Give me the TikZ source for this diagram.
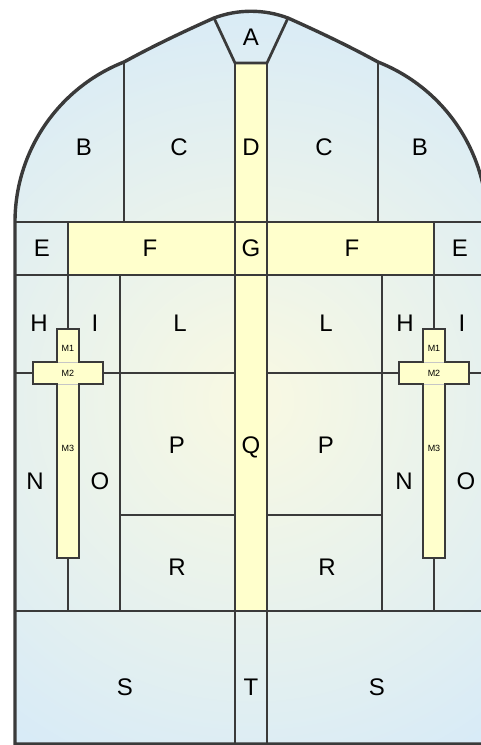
\documentclass[tikz,border=0pt]{standalone}
\usepackage{fontspec}
\setmainfont{Liberation Sans}
\definecolor{lead}{RGB}{58,58,58}
\definecolor{glassin}{RGB}{249,249,226}
\definecolor{glassout}{RGB}{214,234,248}
\definecolor{gold}{RGB}{255,255,204}
\tikzset{
  leadline/.style={draw=lead, line width=2.7pt},
  frameline/.style={draw=lead, line width=3.4pt},
  crossline/.style={draw=lead, line width=2.3pt, fill=gold},
  faint/.style={draw=gray!45, line width=0.8pt},
  lbl/.style={font=\fontsize{24}{24}\selectfont, inner sep=0pt, text depth=0pt},
  mlbl/.style={font=\fontsize{9}{9}\selectfont, inner sep=0pt, text depth=0pt},
}
\begin{document}
\begin{tikzpicture}[x=1pt,y=-1pt]
\useasboundingbox (0,0) rectangle (481,745);
\clip (0,0) rectangle (481,745);
% window outline
\def\outline{(15,744) -- (15,222) .. controls (15,151.3) and (58.3,87.9) .. (124,62)
  .. controls (155,45) and (185,31) .. (214,18)
  .. controls (238,9) and (264,9) .. (288,18)
  .. controls (317,31) and (347,45) .. (378,62)
  .. controls (443.7,87.9) and (487,151.3) .. (487,222) -- (487,744) -- cycle}
\begin{scope}
  \clip \outline;
  \shade[inner color=glassin, outer color=glassout] (251,400) circle (430);
\end{scope}
% yellow panes
\fill[gold] (235,63) rectangle (267,611);
\fill[gold] (68,222) rectangle (434,275);
% lead lines
\draw[leadline] (15,222) -- (487,222);
\draw[leadline] (15,275) -- (487,275);
\draw[leadline] (15,611) -- (487,611);
\draw[leadline] (214,18) -- (235,63) -- (267,63) -- (288,18);
\draw[leadline] (235,63) -- (235,744);
\draw[leadline] (267,63) -- (267,744);
\draw[leadline] (124,62) -- (124,222);
\draw[leadline] (378,62) -- (378,222);
\draw[leadline] (68,222) -- (68,330);
\draw[leadline] (434,222) -- (434,330);
\draw[leadline] (68,557) -- (68,611);
\draw[leadline] (434,557) -- (434,611);
\draw[leadline] (120,275) -- (120,611);
\draw[leadline] (382,275) -- (382,611);
\draw[leadline] (15,373) -- (235,373);
\draw[leadline] (267,373) -- (487,373);
\draw[leadline] (120,515) -- (235,515);
\draw[leadline] (267,515) -- (382,515);
% crosses
\foreach \cx/\nm in {68/l, 434/r}{
  \begin{scope}[shift={(\cx,0)}]
    \draw[crossline] (-11,329) -- (11,329) -- (11,362) -- (35,362) -- (35,384)
      -- (11,384) -- (11,558) -- (-11,558) -- (-11,384) -- (-35,384)
      -- (-35,362) -- (-11,362) -- cycle;
    \draw[faint] (-10,362) -- (10,362);
    \draw[faint] (-10,384) -- (10,384);
    \node[mlbl] (m1\nm) at (0,348) {M1};
    \node[mlbl] (m2\nm) at (0,373) {M2};
    \node[mlbl] (m3\nm) at (0,448) {M3};
  \end{scope}
}
% outer frame
\draw[frameline] \outline;
% labels
\node[lbl] (A) at (251,37) {A};
\node[lbl] (B1) at (84,147) {B};
\node[lbl] (C1) at (179,147) {C};
\node[lbl] (D) at (251,147) {D};
\node[lbl] (C2) at (324,147) {C};
\node[lbl] (B2) at (420,147) {B};
\node[lbl] (E1) at (42,248) {E};
\node[lbl] (F1) at (150,248) {F};
\node[lbl] (G) at (251,248) {G};
\node[lbl] (F2) at (352,248) {F};
\node[lbl] (E2) at (460,248) {E};
\node[lbl] (H1) at (39,323) {H};
\node[lbl] (I1) at (95,323) {I};
\node[lbl] (L1) at (180,323) {L};
\node[lbl] (L2) at (326,323) {L};
\node[lbl] (H2) at (405,323) {H};
\node[lbl] (I2) at (462,323) {I};
\node[lbl] (N1) at (35,481) {N};
\node[lbl] (O1) at (100,481) {O};
\node[lbl] (P1) at (177,445) {P};
\node[lbl] (Q) at (251,445) {Q};
\node[lbl] (P2) at (326,445) {P};
\node[lbl] (N2) at (404,481) {N};
\node[lbl] (O2) at (466,481) {O};
\node[lbl] (R1) at (177,567) {R};
\node[lbl] (R2) at (327,567) {R};
\node[lbl] (S1) at (125,687) {S};
\node[lbl] (T) at (251,687) {T};
\node[lbl] (S2) at (377,687) {S};
\end{tikzpicture}
\end{document}
